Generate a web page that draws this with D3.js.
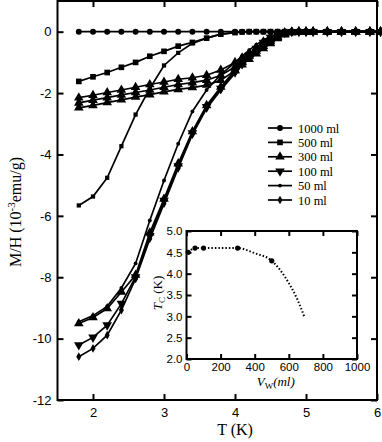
<!DOCTYPE html>
<html>
<head>
<meta charset="utf-8">
<script src="https://cdn.jsdelivr.net/npm/d3@7"></script>
<style>
  body { margin: 0; background: #fff; }
  svg { display: block; }
  .tick text { font-family: "Liberation Sans", Arial, sans-serif; }
</style>
</head>
<body>
<div id="chart"></div>
<script>
// temperatures (K) shared by every curve
const temps = [1.8, 2.0, 2.2, 2.4, 2.6, 2.8, 3.0, 3.2, 3.4, 3.6, 3.8,
  4.0, 4.1, 4.2, 4.3, 4.4, 4.5, 4.6, 4.7, 4.8, 4.9, 5.0,
  5.1, 5.3, 5.5, 5.7, 5.9, 6.05];

// M/H values (10^-3 emu/g)
const ml1000 = [0, 0, 0, 0, 0, 0, 0, 0, 0, 0, 0,
  0, 0, 0, 0, 0, 0, 0, 0, 0, 0, 0,
  0, 0, 0, 0, 0, 0];
const ml500 = [-1.62, -1.47, -1.33, -1.16, -1.0, -0.8, -0.64, -0.47, -0.35, -0.21, -0.08,
  -0.03, -0.01, 0, 0, 0, 0, 0, 0, 0, 0, 0,
  0, 0, 0, 0, 0, 0];
const ml500b = [-5.66, -5.37, -4.76, -3.73, -2.7, -1.85, -1.1, -0.69, -0.38, -0.21, -0.08,
  -0.03, -0.01, 0, 0, 0, 0, 0, 0, 0, 0, 0,
  0, 0, 0, 0, 0, 0];
const ml300a = [-2.15, -2.07, -1.98, -1.9, -1.81, -1.72, -1.64, -1.55, -1.5, -1.42, -1.25,
  -1.0, -0.85, -0.7, -0.55, -0.4, -0.26, -0.14, -0.06, -0.02, 0, 0,
  0, 0, 0, 0, 0, 0];
const ml300b = [-2.32, -2.23, -2.15, -2.06, -1.98, -1.9, -1.81, -1.72, -1.66, -1.58, -1.42,
  -1.15, -0.98, -0.8, -0.63, -0.47, -0.32, -0.18, -0.08, -0.02, 0, 0,
  0, 0, 0, 0, 0, 0];
const ml300c = [-2.48, -2.4, -2.31, -2.22, -2.13, -2.05, -1.96, -1.88, -1.82, -1.74, -1.58,
  -1.27, -1.08, -0.9, -0.72, -0.55, -0.38, -0.22, -0.1, -0.03, 0, 0,
  0, 0, 0, 0, 0, 0];
const ml300d = [-9.51, -9.31, -9.02, -8.48, -7.93, -6.55, -5.45, -4.3, -3.25, -2.4, -1.8,
  -1.25, -1.0, -0.75, -0.52, -0.33, -0.18, -0.08, -0.03, 0, 0, 0,
  0, 0, 0, 0, 0, 0];
const ml100 = [-10.21, -9.96, -9.56, -8.86, -7.99, -6.65, -5.5, -4.38, -3.3, -2.45, -1.85,
  -1.3, -1.04, -0.78, -0.55, -0.35, -0.19, -0.09, -0.03, 0, 0, 0,
  0, 0, 0, 0, 0, 0];
const ml50 = [-9.45, -9.25, -8.95, -8.35, -7.55, -6.15, -4.85, -3.65, -2.6, -1.9, -1.4,
  -1.0, -0.8, -0.6, -0.42, -0.27, -0.15, -0.07, -0.02, 0, 0, 0,
  0, 0, 0, 0, 0, 0];
const ml10 = [-10.59, -10.32, -9.89, -9.07, -8.05, -6.75, -5.6, -4.45, -3.35, -2.5, -1.9,
  -1.35, -1.08, -0.82, -0.58, -0.37, -0.2, -0.1, -0.04, 0, 0, 0,
  0, 0, 0, 0, 0, 0];

const legendLabels = ["1000 ml", "500 ml", "300 ml", "100 ml", "50 ml", "10 ml"];
const xTicks = [2, 3, 4, 5, 6];
const yTicks = [0, -2, -4, -6, -8, -10, -12];

// inset: Tc against water volume
const insetVol = [10, 50, 100, 300, 500];
const insetTc = [4.5, 4.6, 4.6, 4.6, 4.3];
const fitVol = [10, 50, 100, 300, 400, 500, 600, 650, 690];
const fitTc = [4.5, 4.6, 4.6, 4.6, 4.48, 4.3, 3.78, 3.4, 3.0];
const insetXTicks = [0, 200, 400, 600, 800, 1000];
const insetYTicks = [2.0, 2.5, 3.0, 3.5, 4.0, 4.5, 5.0];

const width = 382, height = 442;
const margin = { top: 1, right: 5, bottom: 42, left: 57.5 };
const plotW = width - margin.left - margin.right;
const plotH = height - margin.top - margin.bottom;

const svg = d3.select("#chart").append("svg")
  .attr("width", width)
  .attr("height", height);

const g = svg.append("g")
  .attr("transform", `translate(${margin.left},${margin.top})`);

const x = d3.scaleLinear().domain([1.5, 6]).range([0, plotW]);
const y = d3.scaleLinear().domain([-12, 1]).range([plotH, 0]);

// marker shapes: [symbol, size]
const sym = {
  circle: [d3.symbolCircle, 28],
  square: [d3.symbolSquare, 32],
  smallSquare: [d3.symbolSquare, 18],
  up: [d3.symbolTriangle, 40],
  down: [d3.symbolTriangle, 40],
  dot: [d3.symbolCircle, 12],
  diamond: [d3.symbolDiamond, 22]
};

const series = [
  { vals: ml1000, m: "circle" },
  { vals: ml500, m: "square" },
  { vals: ml500b, m: "smallSquare" },
  { vals: ml300a, m: "up" },
  { vals: ml300b, m: "up" },
  { vals: ml300c, m: "up" },
  { vals: ml50, m: "dot" },
  { vals: ml300d, m: "up" },
  { vals: ml100, m: "down" },
  { vals: ml10, m: "diamond" }
];

function marker(sel, m) {
  const [s, size] = sym[m];
  sel.attr("d", d3.symbol().type(s).size(size)())
    .attr("fill", "#000")
    .attr("transform", function () {
      const t = d3.select(this).attr("transform");
      return m === "down" ? t + " rotate(180)" : t;
    });
}

const line = d3.line()
  .x(d => x(d[0]))
  .y(d => y(d[1]));

series.forEach(s => {
  const pts = temps.map((t, i) => [t, s.vals[i]]);
  g.append("path")
    .datum(pts)
    .attr("fill", "none")
    .attr("stroke", "#000")
    .attr("stroke-width", 1.7)
    .attr("d", line);
  g.selectAll(null)
    .data(pts)
    .enter()
    .append("path")
    .attr("transform", d => `translate(${x(d[0])},${y(d[1])})`)
    .call(marker, s.m);
});

// axes with inward ticks
g.append("g")
  .attr("transform", `translate(0,${plotH})`)
  .call(d3.axisBottom(x).tickValues(xTicks).tickSizeInner(-6).tickSizeOuter(0).tickPadding(8).tickFormat(d3.format("d")))
  .call(a => a.select(".domain").remove())
  .selectAll("text").attr("font-size", 13).attr("fill", "#000");

g.append("g")
  .call(d3.axisTop(x).tickValues(xTicks).tickSizeInner(-6).tickSizeOuter(0).tickFormat(""))
  .call(a => a.select(".domain").remove());

g.append("g")
  .call(d3.axisLeft(y).tickValues(yTicks).tickSizeInner(-6).tickSizeOuter(0).tickPadding(6).tickFormat(d => String(d)))
  .call(a => a.select(".domain").remove())
  .selectAll("text").attr("font-size", 13).attr("fill", "#000");

g.append("g")
  .attr("transform", `translate(${plotW},0)`)
  .call(d3.axisRight(y).tickValues(yTicks).tickSizeInner(-6).tickSizeOuter(0).tickFormat(""))
  .call(a => a.select(".domain").remove());

g.selectAll(".tick line").attr("stroke-width", 2);

g.append("rect")
  .attr("width", plotW)
  .attr("height", plotH)
  .attr("fill", "none")
  .attr("stroke", "#000")
  .attr("stroke-width", 2);

// axis titles
svg.append("text")
  .attr("x", margin.left + x(4))
  .attr("y", 435)
  .attr("text-anchor", "middle")
  .attr("font-family", "Liberation Serif, serif")
  .attr("font-size", 16)
  .text("T (K)");

const yt = svg.append("text")
  .attr("transform", `translate(21,212) rotate(-90)`)
  .attr("text-anchor", "middle")
  .attr("font-family", "Liberation Serif, serif")
  .attr("font-size", 16);
yt.append("tspan").text("M/H (10");
yt.append("tspan").attr("dy", -6).attr("font-size", 11).text("-3");
yt.append("tspan").attr("dy", 6).text("emu/g)");

// legend
const legendMarks = ["circle", "square", "up", "down", "dot", "diamond"];
const legend = svg.append("g").attr("transform", "translate(268,128)");
legendLabels.forEach((lab, i) => {
  const row = legend.append("g").attr("transform", `translate(0,${i * 14.4})`);
  row.append("line").attr("x1", 0).attr("x2", 24)
    .attr("stroke", "#000").attr("stroke-width", 1.7);
  row.append("path").attr("transform", "translate(12,0)").call(marker, legendMarks[i]);
  row.append("text")
    .attr("x", 30).attr("y", 4.5)
    .attr("font-family", "Liberation Serif, serif")
    .attr("font-size", 12.5)
    .text(lab);
});

// inset
const ins = { left: 186.5, top: 231, w: 170.5, h: 128 };
const ig = svg.append("g").attr("transform", `translate(${ins.left},${ins.top})`);
const ix = d3.scaleLinear().domain([0, 1000]).range([0, ins.w]);
const iy = d3.scaleLinear().domain([2, 5]).range([ins.h, 0]);

ig.append("rect").attr("width", ins.w).attr("height", ins.h).attr("fill", "#fff");

ig.append("path")
  .datum(fitVol.map((v, i) => [v, fitTc[i]]))
  .attr("fill", "none")
  .attr("stroke", "#000")
  .attr("stroke-width", 2)
  .attr("stroke-dasharray", "1.5,2")
  .attr("d", d3.line().x(d => ix(d[0])).y(d => iy(d[1])).curve(d3.curveMonotoneX));

ig.selectAll(".pt")
  .data(insetVol.map((v, i) => [v, insetTc[i]]))
  .enter()
  .append("circle")
  .attr("cx", d => ix(d[0]))
  .attr("cy", d => iy(d[1]))
  .attr("r", 2.6);

ig.append("g")
  .attr("transform", `translate(0,${ins.h})`)
  .call(d3.axisBottom(ix).tickValues(insetXTicks).tickSizeInner(-5).tickSizeOuter(0).tickPadding(4).tickFormat(d3.format("d")))
  .call(a => a.select(".domain").remove())
  .selectAll("text").attr("font-size", 11.5).attr("fill", "#000");
ig.append("g")
  .call(d3.axisTop(ix).tickValues(insetXTicks).tickSizeInner(-5).tickSizeOuter(0).tickFormat(""))
  .call(a => a.select(".domain").remove());
ig.append("g")
  .call(d3.axisLeft(iy).tickValues(insetYTicks).tickSizeInner(-5).tickSizeOuter(0).tickPadding(4).tickFormat(d3.format(".1f")))
  .call(a => a.select(".domain").remove())
  .selectAll("text").attr("font-size", 11.5).attr("fill", "#000");
ig.append("g")
  .attr("transform", `translate(${ins.w},0)`)
  .call(d3.axisRight(iy).tickValues(insetYTicks).tickSizeInner(-5).tickSizeOuter(0).tickFormat(""))
  .call(a => a.select(".domain").remove());
ig.selectAll(".tick line").attr("stroke-width", 2);

ig.append("rect")
  .attr("width", ins.w).attr("height", ins.h)
  .attr("fill", "none").attr("stroke", "#000").attr("stroke-width", 2);

const ixl = ig.append("text")
  .attr("x", ins.w / 2 + 4).attr("y", 155)
  .attr("text-anchor", "middle")
  .attr("font-family", "Liberation Serif, serif")
  .attr("font-size", 13)
  .attr("font-style", "italic");
ixl.append("tspan").text("V");
ixl.append("tspan").attr("dy", 3).attr("font-size", 9).attr("font-style", "normal").text("W");
ixl.append("tspan").attr("dy", -3).text("(ml)");

const iyl = ig.append("text")
  .attr("transform", `translate(-25,${ins.h / 2 - 2}) rotate(-90)`)
  .attr("text-anchor", "middle")
  .attr("font-family", "Liberation Serif, serif")
  .attr("font-size", 13);
iyl.append("tspan").attr("font-style", "italic").text("T");
iyl.append("tspan").attr("dy", 3).attr("font-size", 9).text("C");
iyl.append("tspan").attr("dy", -3).text(" (K)");
</script>
</body>
</html>
